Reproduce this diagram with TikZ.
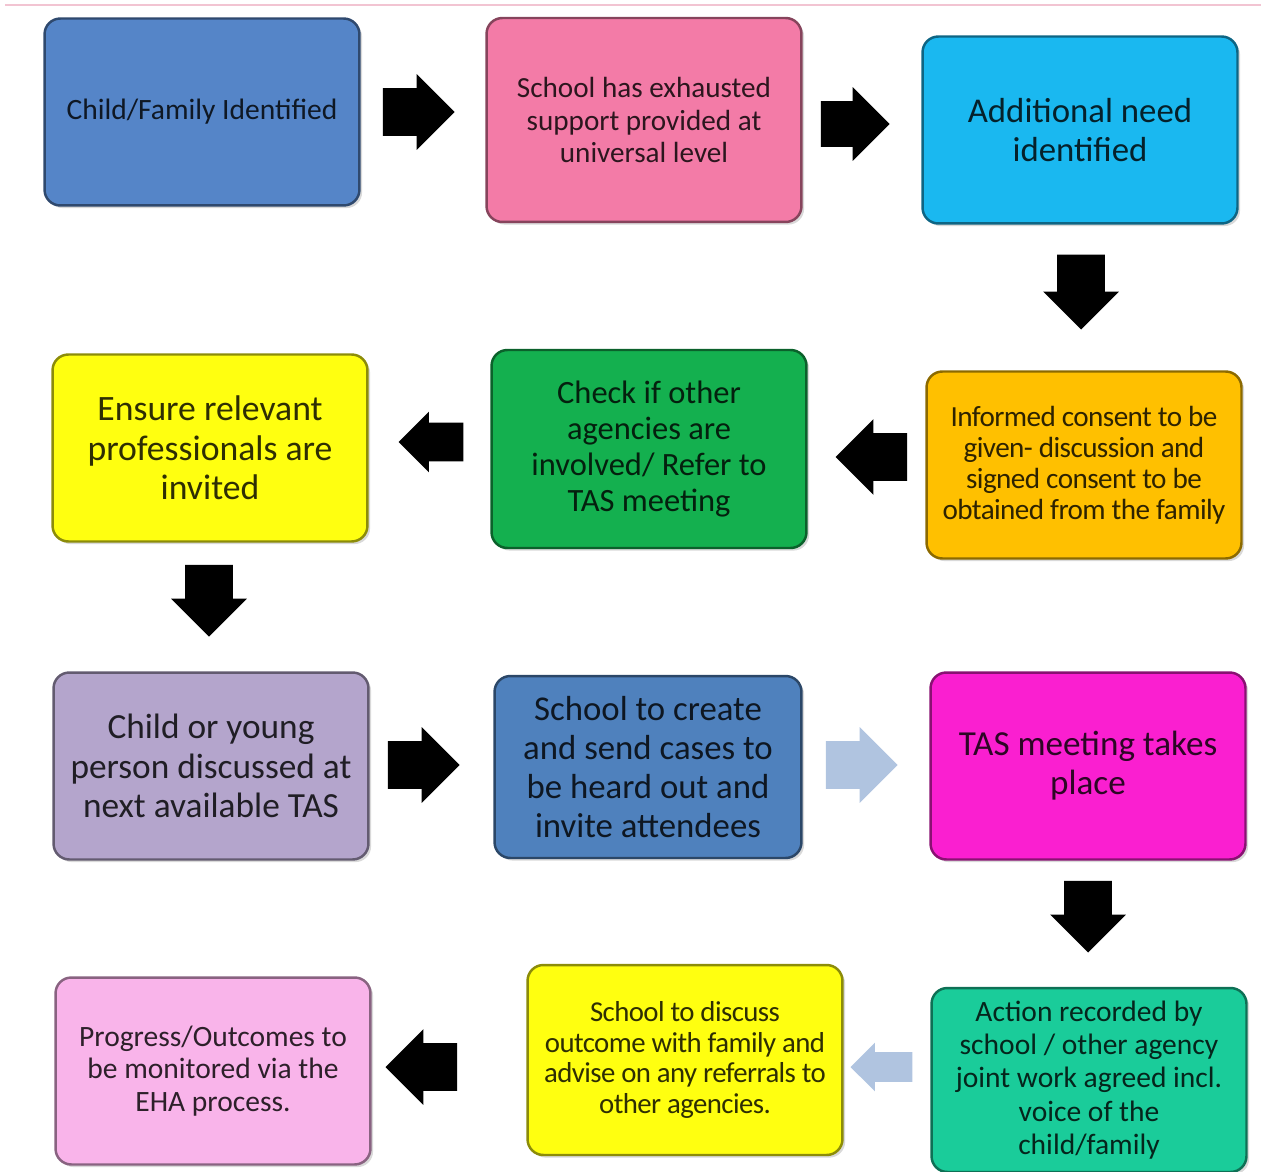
\documentclass[tikz,border=0pt]{standalone}
\usepackage{fontspec}
\setmainfont{Carlito}
\usetikzlibrary{positioning, shapes.arrows, shadows}

\definecolor{cBlueA}{HTML}{5585C8}
\definecolor{cPink}{HTML}{F37BA7}
\definecolor{cCyan}{HTML}{1AB8F0}
\definecolor{cYellow}{HTML}{FFFF10}
\definecolor{cGreen}{HTML}{14B04F}
\definecolor{cOrange}{HTML}{FFC000}
\definecolor{cLav}{HTML}{B4A5CC}
\definecolor{cBlueB}{HTML}{4F81BD}
\definecolor{cMagenta}{HTML}{FA1FD0}
\definecolor{cLightPink}{HTML}{F9B4EA}
\definecolor{cTeal}{HTML}{1ACC9A}
\definecolor{cArrowLight}{HTML}{B0C4E0}
\definecolor{cTopLine}{HTML}{F2C4D2}

\tikzset{
	flowbox/.style={draw=#1!55!black, fill=#1, text=#1!18!black, rounded corners=9pt,
		line width=1.4pt, align=center, inner sep=2pt,
		minimum width=6.3cm, minimum height=3.74cm,
		drop shadow={shadow xshift=1.5pt, shadow yshift=-1.5pt, opacity=0.3}},
	blockarrow/.style={single arrow, draw=none, fill=black, inner sep=0.47cm,
		minimum height=1.35cm, single arrow head extend=0.28cm, anchor=tip},
	fs/.style 2 args={font=\fontsize{#1}{#2}\selectfont}
}

\begin{document}
\begin{tikzpicture}[x=0.02cm, y=-0.02cm]

	\useasboundingbox (0,0) rectangle (1261,1172);
	\draw[cTopLine, line width=1.5pt] (5,5) -- (1261,5);

	% row 1
	\node[flowbox=cBlueA, fs={16.8}{18.7}] (ident) at (202,112) {Child/Family Identified};
	\node[flowbox=cPink, fs={16.6}{18.7}, minimum height=4.08cm] (exhaust) at (644,120) {School has exhausted\\ support provided at\\ universal level};
	\node[flowbox=cCyan, fs={19.8}{22.7}] (need) at (1080,130) {Additional need\\ identified};

	% row 2
	\node[flowbox=cOrange, fs={16.6}{17.6}] (consent) at (1084,465) {\addfontfeature{LetterSpace=-2}Informed consent to be\\ \addfontfeature{LetterSpace=-2}given- discussion and\\ \addfontfeature{LetterSpace=-2}signed consent to be\\ \addfontfeature{LetterSpace=-2}obtained from the family};
	\node[flowbox=cGreen, fs={18.5}{20.4}, minimum height=3.96cm] (check) at (649,449) {Check if other\\ agencies are\\ involved/ Refer to\\ TAS meeting};
	\node[flowbox=cYellow, fs={20.3}{22.4}] (ensure) at (210,448) {Ensure relevant\\ professionals are\\ invited};

	% row 3
	\node[flowbox=cLav, fs={20.1}{22.4}] (discuss) at (211,766) {Child or young\\ person discussed at\\ next available TAS};
	\node[flowbox=cBlueB, fs={19.8}{22.1}, minimum width=6.14cm, minimum height=3.64cm] (create) at (648,767) {School to create\\ and send cases to\\ be heard out and\\ invite attendees};
	\node[flowbox=cMagenta, fs={20}{22.1}] (meeting) at (1088,766) {TAS meeting takes\\ place};

	% row 4
	\node[flowbox=cTeal, fs={16.8}{19}, minimum height=3.68cm] (action) at (1089,1080) {Action recorded by\\ school / other agency\\ joint work agreed incl.\\ voice of the\\ child/family};
	\node[flowbox=cYellow, fs={16.4}{17.6}, minimum height=3.8cm] (outcome) at (685,1060) {\addfontfeature{LetterSpace=-2}School to discuss\\ \addfontfeature{LetterSpace=-2}outcome with family and\\ \addfontfeature{LetterSpace=-2}advise on any referrals to\\ \addfontfeature{LetterSpace=-2}other agencies.};
	\node[flowbox=cLightPink, fs={16.8}{18.7}] (monitor) at (213,1071) {Progress/Outcomes to\\ be monitored via the\\ EHA process.};

	% arrows (placed by their tips)
	\node[blockarrow] (a1) at (455,112) {};
	\node[blockarrow, minimum height=1.3cm, inner sep=0.45cm] (a2) at (890,124) {};
	\node[blockarrow, shape border rotate=270, minimum height=1.5cm] (a3) at (1081,330) {};
	\node[blockarrow, shape border rotate=180, minimum height=1.3cm] (a4) at (835,457) {};
	\node[blockarrow, shape border rotate=180, minimum height=1.3cm, inner sep=0.38cm, single arrow head extend=0.22cm] (a5) at (398,442) {};
	\node[blockarrow, shape border rotate=270] (a6) at (209,637) {};
	\node[blockarrow] (a7) at (460,765) {};
	\node[blockarrow, fill=cArrowLight, minimum height=1.3cm] (a8) at (898,765) {};
	\node[blockarrow, shape border rotate=270, minimum height=1.3cm] (a9) at (1088,953) {};
	\node[blockarrow, shape border rotate=180, fill=cArrowLight, minimum height=1.24cm, inner sep=0.29cm, single arrow head extend=0.19cm] (a10) at (850,1067) {};
	\node[blockarrow, shape border rotate=180, minimum height=1.4cm] (a11) at (385,1067) {};

\end{tikzpicture}
\end{document}
